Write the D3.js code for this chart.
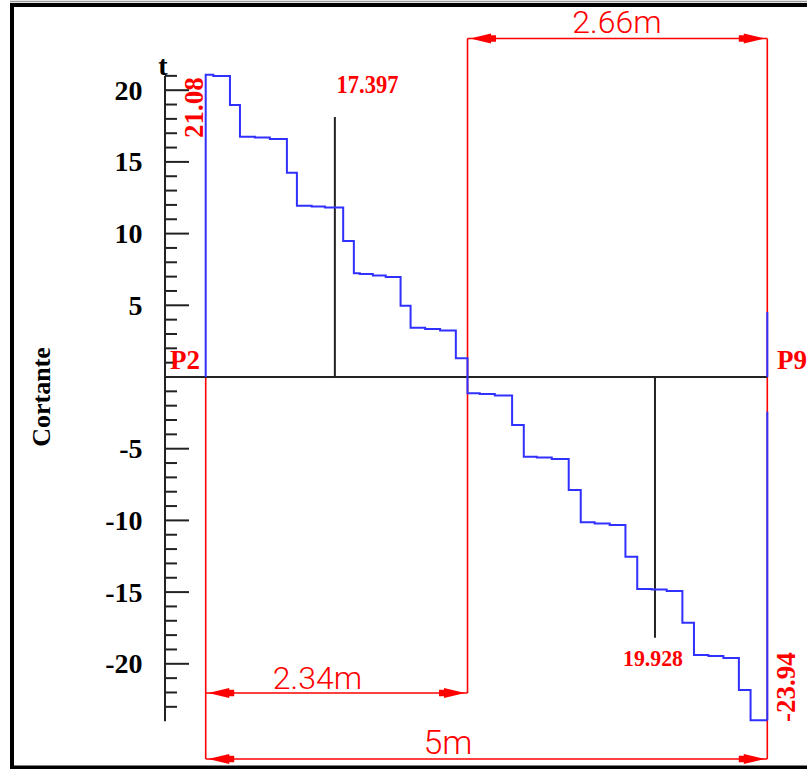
<!DOCTYPE html>
<html>
<head>
<meta charset="utf-8">
<script src="https://cdn.jsdelivr.net/npm/d3@7"></script>
<style>
  html, body { margin: 0; padding: 0; background: #fff; }
  svg { display: block; }
</style>
</head>
<body>
<svg id="chart" width="807" height="769"></svg>
<script>
// Shear diagram (Cortante) along the 5 m span P2 – P9.
// Each point starts a constant level that runs to the next point (step-after).
const shearX = [0.000, 0.000, 0.068, 0.216, 0.305, 0.438, 0.571, 0.723, 0.812, 0.943, 1.061,
                1.224, 1.319, 1.372, 1.488, 1.603, 1.735, 1.824, 1.954, 2.087, 2.227, 2.331,
                2.440, 2.574, 2.728, 2.832, 2.948, 3.081, 3.232, 3.339, 3.463, 3.597, 3.737,
                3.842, 3.971, 4.104, 4.244, 4.347, 4.476, 4.609, 4.747, 4.851, 5.000];
const shearV = [0, 21.08, 20.99, 18.97, 16.76, 16.70, 16.60, 14.25, 11.95, 11.89, 11.82,
                9.48, 7.23, 7.18, 7.08, 6.97, 4.97, 3.44, 3.35, 3.25, 1.30, -1.14,
                -1.19, -1.29, -3.35, -5.56, -5.61, -5.72, -7.88, -10.13, -10.22, -10.32, -12.53,
                -14.78, -14.82, -14.92, -17.13, -19.39, -19.46, -19.60, -21.83, -23.94, -23.94];

// Value at the right support continuing into the next span
const nextSpanStart = 4.53;
const rightRedGap = [-2.42, 0];

// Markers at the positions of the section values
const markerX = [1.150, 4.000];
const markerTop = [18.13, -18.18];
const markerLabels = ["17.397", "19.928"];

// Dimension chains (metres)
const dimZero = 2.34;
const dimLeftLabel = "2.34m";
const dimRightLabel = "2.66m";
const dimTotalLabel = "5m";
const spanLength = 5;

// Axis ticks
const majorTicks = [-20, -15, -10, -5, 5, 10, 15, 20];
const minorTicks = d3.range(-23, 22);
const axisDomain = [-24, 21];

const endValues = ["21.08", "-23.94"];
const supportLabels = ["P2", "P9"];

const RED = "#ff0000", BLUE = "#3030ff", INK = "#222";
const serif = "'Liberation Serif', 'Times New Roman', serif";
const cad = "Roboto, 'Open Sans', sans-serif";

const svg = d3.select("#chart");

const x = d3.scaleLinear().domain([0, spanLength]).range([205.7, 767.3]);
const y = d3.scaleLinear().domain([0, 20]).range([377, 90.2]);

// Outer frame
svg.append("rect").attr("x", 12).attr("y", 5).attr("width", 900).attr("height", 762.5)
  .attr("fill", "none").attr("stroke", "#000").attr("stroke-width", 4);
svg.append("line").attr("x1", 10).attr("x2", 807).attr("y1", 1.5).attr("y2", 1.5)
  .attr("stroke", "#999").attr("stroke-width", 1.5);

// ----- Dimension lines (red) -----
const dim = svg.append("g").attr("stroke", RED).attr("stroke-width", 1.6).attr("fill", "none");
const xZero = x(dimZero - 0.009);
const yTop = 38.5, yMid = 693, yBot = 759;

// extension lines
dim.append("line").attr("x1", x(0)).attr("x2", x(0)).attr("y1", y(0)).attr("y2", yBot);
dim.append("line").attr("x1", xZero).attr("x2", xZero).attr("y1", yTop).attr("y2", yMid);
dim.append("line").attr("x1", x(spanLength)).attr("x2", x(spanLength)).attr("y1", yTop).attr("y2", yBot);
// dimension lines
dim.append("line").attr("x1", xZero).attr("x2", x(spanLength)).attr("y1", yTop).attr("y2", yTop);
dim.append("line").attr("x1", x(0)).attr("x2", xZero).attr("y1", yMid).attr("y2", yMid);
dim.append("line").attr("x1", x(0)).attr("x2", x(spanLength)).attr("y1", yBot).attr("y2", yBot);

function arrow(tx, ty, dir) {
  // dir = -1: pointing left, +1: pointing right; tip at (tx, ty)
  const b = tx - dir * 21, t = tx - dir * 26;
  return `M${tx},${ty} L${b},${ty - 5} L${b},${ty - 3.2} L${t},${ty - 3.2} L${t},${ty + 3.2} L${b},${ty + 3.2} L${b},${ty + 5} Z`;
}
const arrows = [
  [xZero + 2.5, yTop, -1], [x(spanLength) - 2.5, yTop, 1],
  [x(0) + 2.5, yMid, -1], [xZero - 2.5, yMid, 1],
  [x(0) + 2.5, yBot, -1], [x(spanLength) - 2.5, yBot, 1]
];
svg.append("g").selectAll("path").data(arrows).join("path")
  .attr("d", d => arrow(d[0], d[1], d[2])).attr("fill", RED);

const dimText = svg.append("g").attr("fill", RED).attr("font-family", cad)
  .attr("font-weight", 300).attr("font-size", 32).attr("text-anchor", "middle");
dimText.append("text").attr("x", 617).attr("y", 33).text(dimRightLabel);
dimText.append("text").attr("x", 317.5).attr("y", 689).text(dimLeftLabel);
dimText.append("text").attr("x", 448).attr("y", 754).attr("font-size", 34).text(dimTotalLabel);

// ----- Axis -----
const axisG = svg.append("g").attr("stroke", INK).attr("stroke-width", 2);
axisG.append("line").attr("x1", 165).attr("x2", 165)
  .attr("y1", y(axisDomain[1])).attr("y2", y(axisDomain[0]));
axisG.selectAll("line.minor").data(minorTicks.filter(v => v !== 0)).join("line")
  .attr("class", "minor")
  .attr("x1", 165).attr("x2", d => majorTicks.includes(d) ? 189 : 177)
  .attr("y1", d => y(d)).attr("y2", d => y(d));

svg.append("g").attr("font-family", serif).attr("font-weight", "bold").attr("font-size", 28)
  .attr("text-anchor", "end").attr("fill", "#000")
  .selectAll("text").data(majorTicks).join("text")
  .attr("x", 142.5).attr("y", d => y(d)).attr("dy", "0.34em").text(d => d);

svg.append("text").attr("x", 163).attr("y", 75).attr("text-anchor", "middle")
  .attr("font-family", serif).attr("font-weight", "bold").attr("font-size", 28).text("t");

svg.append("text").attr("transform", "translate(50,397) rotate(-90)")
  .attr("text-anchor", "middle").attr("font-family", serif).attr("font-weight", "bold")
  .attr("font-size", 26).text("Cortante");

// zero line
svg.append("line").attr("x1", 165).attr("x2", x(spanLength)).attr("y1", y(0)).attr("y2", y(0))
  .attr("stroke", INK).attr("stroke-width", 2);

// markers
svg.append("g").selectAll("line").data(markerX).join("line")
  .attr("x1", d => x(d)).attr("x2", d => x(d))
  .attr("y1", y(0)).attr("y2", (d, i) => y(markerTop[i]))
  .attr("stroke", INK).attr("stroke-width", 2);

// ----- Shear diagram -----
const pts = shearX.map((v, i) => [v, shearV[i]]);
const line = d3.line().x(d => x(d[0])).y(d => y(d[1])).curve(d3.curveStepAfter);
svg.append("path").datum(pts).attr("d", line)
  .attr("fill", "none").attr("stroke", BLUE).attr("stroke-width", 2);

// right support: blue closing line, with the red extension line visible across the gap
svg.append("line").attr("x1", x(spanLength)).attr("x2", x(spanLength))
  .attr("y1", y(shearV[shearV.length - 1])).attr("y2", y(rightRedGap[0]))
  .attr("stroke", BLUE).attr("stroke-width", 2);
svg.append("line").attr("x1", x(spanLength)).attr("x2", x(spanLength))
  .attr("y1", y(rightRedGap[1])).attr("y2", y(nextSpanStart))
  .attr("stroke", BLUE).attr("stroke-width", 2);

// ----- Red value labels -----
const lab = svg.append("g").attr("fill", RED).attr("font-family", serif);
lab.append("text").attr("transform", `translate(${x(0) - 3},107.5) rotate(-90)`)
  .attr("text-anchor", "middle").attr("font-weight", "bold").attr("font-size", 27).text(endValues[0]);
lab.append("text").attr("transform", `translate(${x(spanLength) + 28},687) rotate(-90)`)
  .attr("text-anchor", "middle").attr("font-weight", "bold").attr("font-size", 27).text(endValues[1]);

lab.append("text").attr("x", 170).attr("y", 369).attr("font-weight", "bold")
  .attr("font-size", 27).text(supportLabels[0]);
lab.append("text").attr("x", 777).attr("y", 369).attr("font-weight", "bold")
  .attr("font-size", 27).text(supportLabels[1]);

lab.append("text").attr("x", 336.5).attr("y", 93).attr("font-size", 25).attr("font-weight", "bold")
  .attr("textLength", 62).attr("lengthAdjust", "spacingAndGlyphs").text(markerLabels[0]);
lab.append("text").attr("x", 623).attr("y", 665.5).attr("font-size", 24).attr("font-weight", "bold")
  .attr("textLength", 60).attr("lengthAdjust", "spacingAndGlyphs").text(markerLabels[1]);
</script>
</body>
</html>
